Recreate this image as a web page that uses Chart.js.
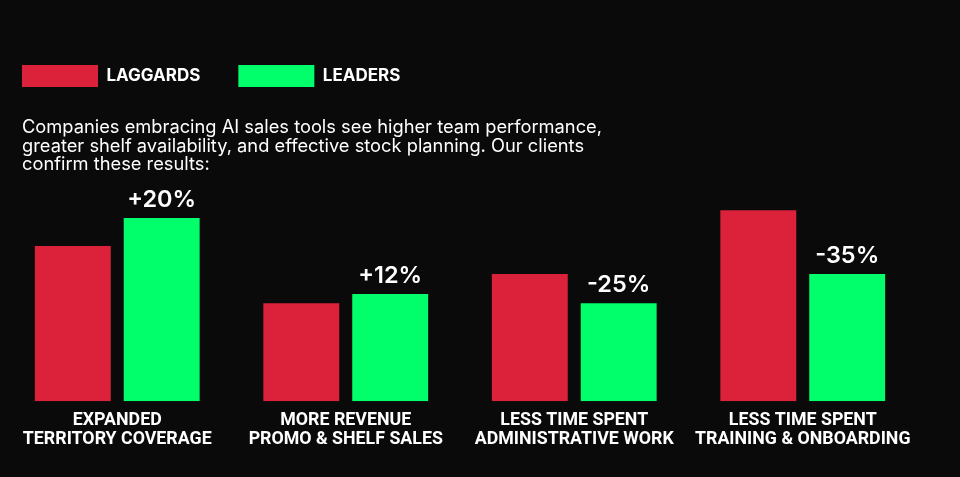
<!DOCTYPE html>
<html>
<head>
<meta charset="utf-8">
<script src="https://cdn.jsdelivr.net/npm/chart.js@4.4.0/dist/chart.umd.min.js"></script>
<style>
html,body{margin:0;padding:0;background:#0b0a0a;}
#wrap{position:relative;width:960px;height:477px;}
</style>
</head>
<body>
<div id="wrap"><canvas id="chart"></canvas></div>
<script>
// data (bar heights as index, laggards group 1 = 100)
const categories=[['EXPANDED','TERRITORY COVERAGE'],['MORE REVENUE','PROMO & SHELF SALES'],['LESS TIME SPENT','ADMINISTRATIVE WORK'],['LESS TIME SPENT','TRAINING & ONBOARDING']];
const laggards=[100,63,82,123];
const leaders=[118,69,63,82];
const leaderLabels=['+20%','+12%','-25%','-35%'];
const intro=['Companies embracing AI sales tools see higher team performance,','greater shelf availability, and effective stock planning. Our clients','confirm these results:'];

const RED='#dc223b';
const GREEN='#00ff6b';
const SANS="Inter, 'Open Sans', sans-serif";
const NARROW="'Liberation Sans Narrow', Roboto, sans-serif";

const introText={
    id:'introText',
    afterDraw(chart){
        const ctx=chart.ctx;
        ctx.save();
        ctx.font='400 18.3px '+SANS;
        ctx.fillStyle='#ffffff';
        ctx.textAlign='left';
        ctx.textBaseline='alphabetic';
        for(var i=0;i<intro.length;i++){
            ctx.fillText(intro[i],22,133+i*18.5);
        }
        ctx.restore();
    }
};

const valueLabels={
    id:'valueLabels',
    afterDatasetsDraw(chart){
        const ctx=chart.ctx;
        const meta=chart.getDatasetMeta(1);
        ctx.save();
        ctx.font='600 23.5px '+SANS;
        ctx.fillStyle='#ffffff';
        ctx.textAlign='center';
        ctx.textBaseline='alphabetic';
        meta.data.forEach(function(bar,i){
            ctx.fillText(leaderLabels[i],bar.x,bar.y-11);
        });
        ctx.restore();
    }
};

var ctx=document.getElementById('chart').getContext('2d');
var myChart=new Chart(ctx,{
    type:'bar',
    data:{
        labels:categories,
        datasets:[
            {label:'LAGGARDS',data:laggards,backgroundColor:RED,borderWidth:0},
            {label:'LEADERS',data:leaders,backgroundColor:GREEN,borderWidth:0}
        ]
    },
    options:{
        responsive:true,
        maintainAspectRatio:false,
        animation:false,
        layout:{padding:{top:27,left:-16,right:43,bottom:18}},
        datasets:{bar:{barPercentage:0.854,categoryPercentage:0.778}},
        plugins:{
            legend:{
                position:'top',
                align:'start',
                labels:{
                    boxWidth:76,
                    boxHeight:22,
                    padding:38,
                    color:'#ffffff',
                    font:{family:SANS,size:17,weight:'700'}
                }
            },
            tooltip:{enabled:false}
        },
        scales:{
            x:{
                grid:{display:false,drawTicks:false},
                border:{display:false},
                ticks:{color:'#ffffff',padding:9,maxRotation:0,autoSkip:false,font:{family:NARROW,size:17.8,weight:'700',lineHeight:1.12}}
            },
            y:{
                min:0,
                max:196,
                grid:{display:false,drawTicks:false},
                border:{display:false},
                ticks:{display:false},
                afterFit:function(scale){scale.width=19;}
            }
        }
    },
    plugins:[introText,valueLabels]
});
</script>
</body>
</html>
